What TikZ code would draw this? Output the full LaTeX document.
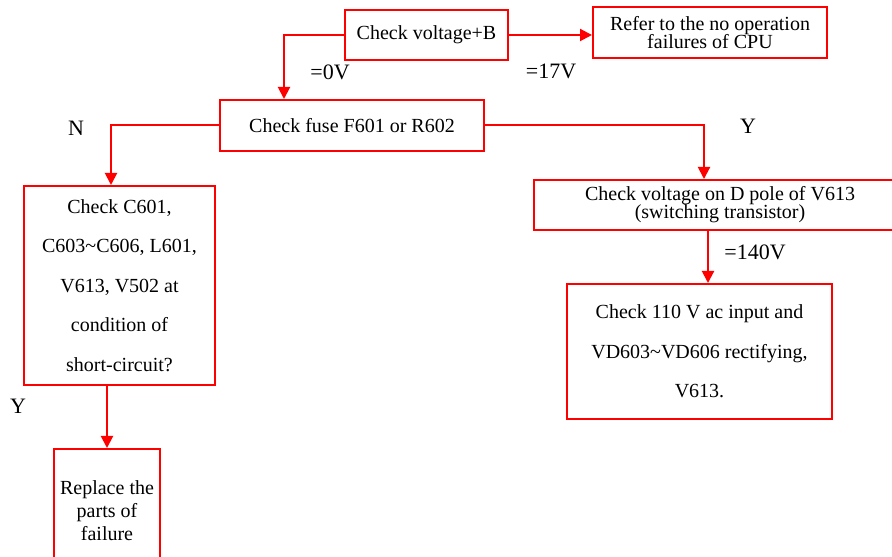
\documentclass[tikz,border=0pt]{standalone}
\usepackage{fontspec}
\setmainfont{Liberation Serif}
\usetikzlibrary{arrows.meta,positioning}
\newcommand{\tightfont}{\fontsize{10}{9}\selectfont\lineskiplimit -5pt\relax}

\begin{document}
\begin{tikzpicture}[x=0.5pt,y=0.5pt,
  box/.style={draw=red,line width=1pt,inner sep=0pt,align=center,font=\tightfont},
  flow/.style={draw=red,line width=1pt,-{Triangle[length=6pt,width=6pt]}},
  lbl/.style={font=\fontsize{11}{13}\selectfont,inner sep=0pt}]
\clip (0,0) rectangle (892,556);

% Top row: supply voltage check
\node[box,minimum width=81.5pt,minimum height=25pt] (chkB) at (426.5,521) {Check voltage+B};
\node[box,minimum width=117pt,minimum height=25.5pt] (cpu) at (710,523.5) {Refer to the no operation\\failures of CPU};
\draw[flow] (chkB.east) -- (cpu.west |- chkB.east);
\node[lbl] (v17) at (551,485) {=17V};

% Fuse check
\node[box,minimum width=132pt,minimum height=25.5pt] (fuse) at (352,430.5) {Check fuse F601 or R602};
\draw[flow] (chkB.west) -| ([xshift=-34pt]fuse.north);
\node[lbl] (v0) at (330,484) {=0V};

% N branch (left)
\node[box,minimum width=95.5pt,minimum height=99.5pt,font=\fontsize{10}{19.75}\selectfont] (short) at (119.5,270.5)
  {Check C601,\\C603\char`~C606, L601,\\V613, V502 at\\condition of\\short-circuit?};
\draw[flow] (fuse.west) -| ([xshift=-4.25pt]short.north);
\node[lbl] (no) at (76,428) {N};

\node[box,minimum width=53pt,minimum height=62pt,font=\fontsize{10}{11.5}\selectfont] (repl) at (107,45)
  {Replace the\\parts of\\failure};
\draw[flow] (short.south -| repl.north) -- (repl.north);
\node[lbl] (yes2) at (18,150) {Y};

% Y branch (right)
\node[box,minimum width=186pt,minimum height=25pt] (dpole) at (720,351) {Check voltage on D pole of V613\\(switching transistor)};
\draw[flow] (fuse.east) -| ([xshift=-8pt]dpole.north);
\node[lbl] (yes1) at (748,430) {Y};

\node[box,minimum width=132.5pt,minimum height=67.5pt,font=\fontsize{10}{19.75}\selectfont] (acin) at (699.5,204.5)
  {Check 110 V ac input and\\VD603\char`~VD606 rectifying,\\V613.};
\draw[flow] ([xshift=4.25pt]acin.north |- dpole.south) -- ([xshift=4.25pt]acin.north);
\node[lbl] (v140) at (755,304) {=140V};
\end{tikzpicture}
\end{document}
